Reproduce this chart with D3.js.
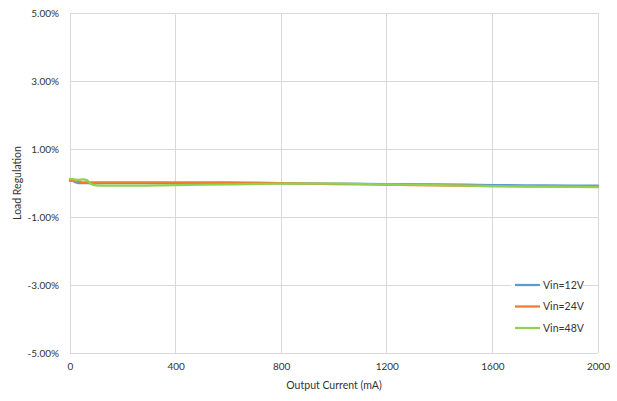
<!DOCTYPE html>
<html><head><meta charset="utf-8">
<script src="https://cdn.jsdelivr.net/npm/d3@7"></script>
<style>body{margin:0;background:#fff}svg{display:block}text{font-family:Lato,"Open Sans",sans-serif;fill:#333}</style>
</head><body><svg id="c" width="617" height="401"></svg>
<script>
const xTicks = [0, 400, 800, 1200, 1600, 2000];
const yTicks = [5, 3, 1, -1, -3, -5];
const seriesNames = ["Vin=12V", "Vin=24V", "Vin=48V"];
const seriesColors = ["#5B9BD5", "#ED7D31", "#92D050"];
const vin12 = [[0,0.08],[10,0.07],[20,0.02],[30,0.0],[50,0.0],[100,0.0],[200,0.0],[400,0.0],[600,0.0],[800,-0.01],[1000,-0.02],[1200,-0.03],[1400,-0.04],[1600,-0.06],[1800,-0.07],[2000,-0.08]];
const vin24 = [[0,0.06],[10,0.08],[20,0.04],[30,0.06],[40,0.03],[50,0.02],[100,0.02],[200,0.02],[400,0.02],[600,0.02],[800,0.0],[1000,-0.03],[1200,-0.05],[1400,-0.07],[1600,-0.09],[1800,-0.1],[2000,-0.11]];
const vin48 = [[0,0.12],[15,0.11],[30,0.09],[50,0.11],[65,0.08],[80,-0.03],[100,-0.07],[150,-0.08],[200,-0.08],[400,-0.06],[600,-0.04],[800,-0.02],[1000,-0.02],[1200,-0.04],[1400,-0.06],[1600,-0.09],[1800,-0.11],[2000,-0.12]];
const allSeries = [vin12, vin24, vin48];

const svg = d3.select("#c");
const L = 70, R = 598, T = 13, B = 353;
const x = d3.scaleLinear().domain([0, 2000]).range([L, R]);
const y = d3.scaleLinear().domain([-5, 5]).range([B, T]);

svg.append("g").selectAll("line").data(yTicks).join("line")
  .attr("x1", L).attr("x2", R).attr("y1", d => y(d)).attr("y2", d => y(d))
  .attr("stroke", "#d9d9d9").attr("stroke-width", 1).attr("shape-rendering", "crispEdges");
svg.append("g").selectAll("line").data(xTicks).join("line")
  .attr("x1", d => x(d)).attr("x2", d => x(d)).attr("y1", T).attr("y2", B)
  .attr("stroke", "#d9d9d9").attr("stroke-width", 1).attr("shape-rendering", "crispEdges");

const yAxis = d3.axisLeft(y).tickValues(yTicks).tickSize(0).tickPadding(11).tickFormat(d => d.toFixed(2) + "%");
const gy = svg.append("g").attr("transform", `translate(${L},0)`).call(yAxis);
gy.select(".domain").remove();
gy.selectAll("text").style("font-size", "10px").attr("fill", "#333");

const xAxis = d3.axisBottom(x).tickValues(xTicks).tickSize(0).tickPadding(10).tickFormat(d3.format("d"));
const gx = svg.append("g").attr("transform", `translate(0,${B})`).call(xAxis);
gx.select(".domain").remove();
gx.selectAll("text").style("font-size", "10px").attr("fill", "#333");

svg.append("text").attr("x", 334).attr("y", 389).attr("text-anchor", "middle")
  .style("font-size", "10.5px").text("Output Current (mA)");
svg.append("text").attr("transform", `translate(21,${(T + B) / 2}) rotate(-90)`).attr("text-anchor", "middle")
  .style("font-size", "10.5px").text("Load Regulation");

const line = d3.line().x(d => x(d[0])).y(d => y(d[1])).curve(d3.curveMonotoneX);
svg.append("g").selectAll("path").data(allSeries).join("path")
  .attr("d", line).attr("fill", "none")
  .attr("stroke", (d, i) => seriesColors[i]).attr("stroke-width", 2.25)
  .attr("stroke-linejoin", "round").attr("stroke-linecap", "round");

const lg = svg.append("g");
const rows = lg.selectAll("g").data(seriesNames).join("g")
  .attr("transform", (d, i) => `translate(515,${285 + i * 21.5})`);
rows.append("rect").attr("x", -4).attr("y", -8).attr("width", 72).attr("height", 16).attr("fill", "#fff");
rows.append("line").attr("x1", 0).attr("x2", 25).attr("y1", 0).attr("y2", 0)
  .attr("stroke", (d, i) => seriesColors[i]).attr("stroke-width", 2.25);
rows.append("text").attr("x", 28).attr("y", 3.5).style("font-size", "10.5px").text(d => d);
</script></body></html>
